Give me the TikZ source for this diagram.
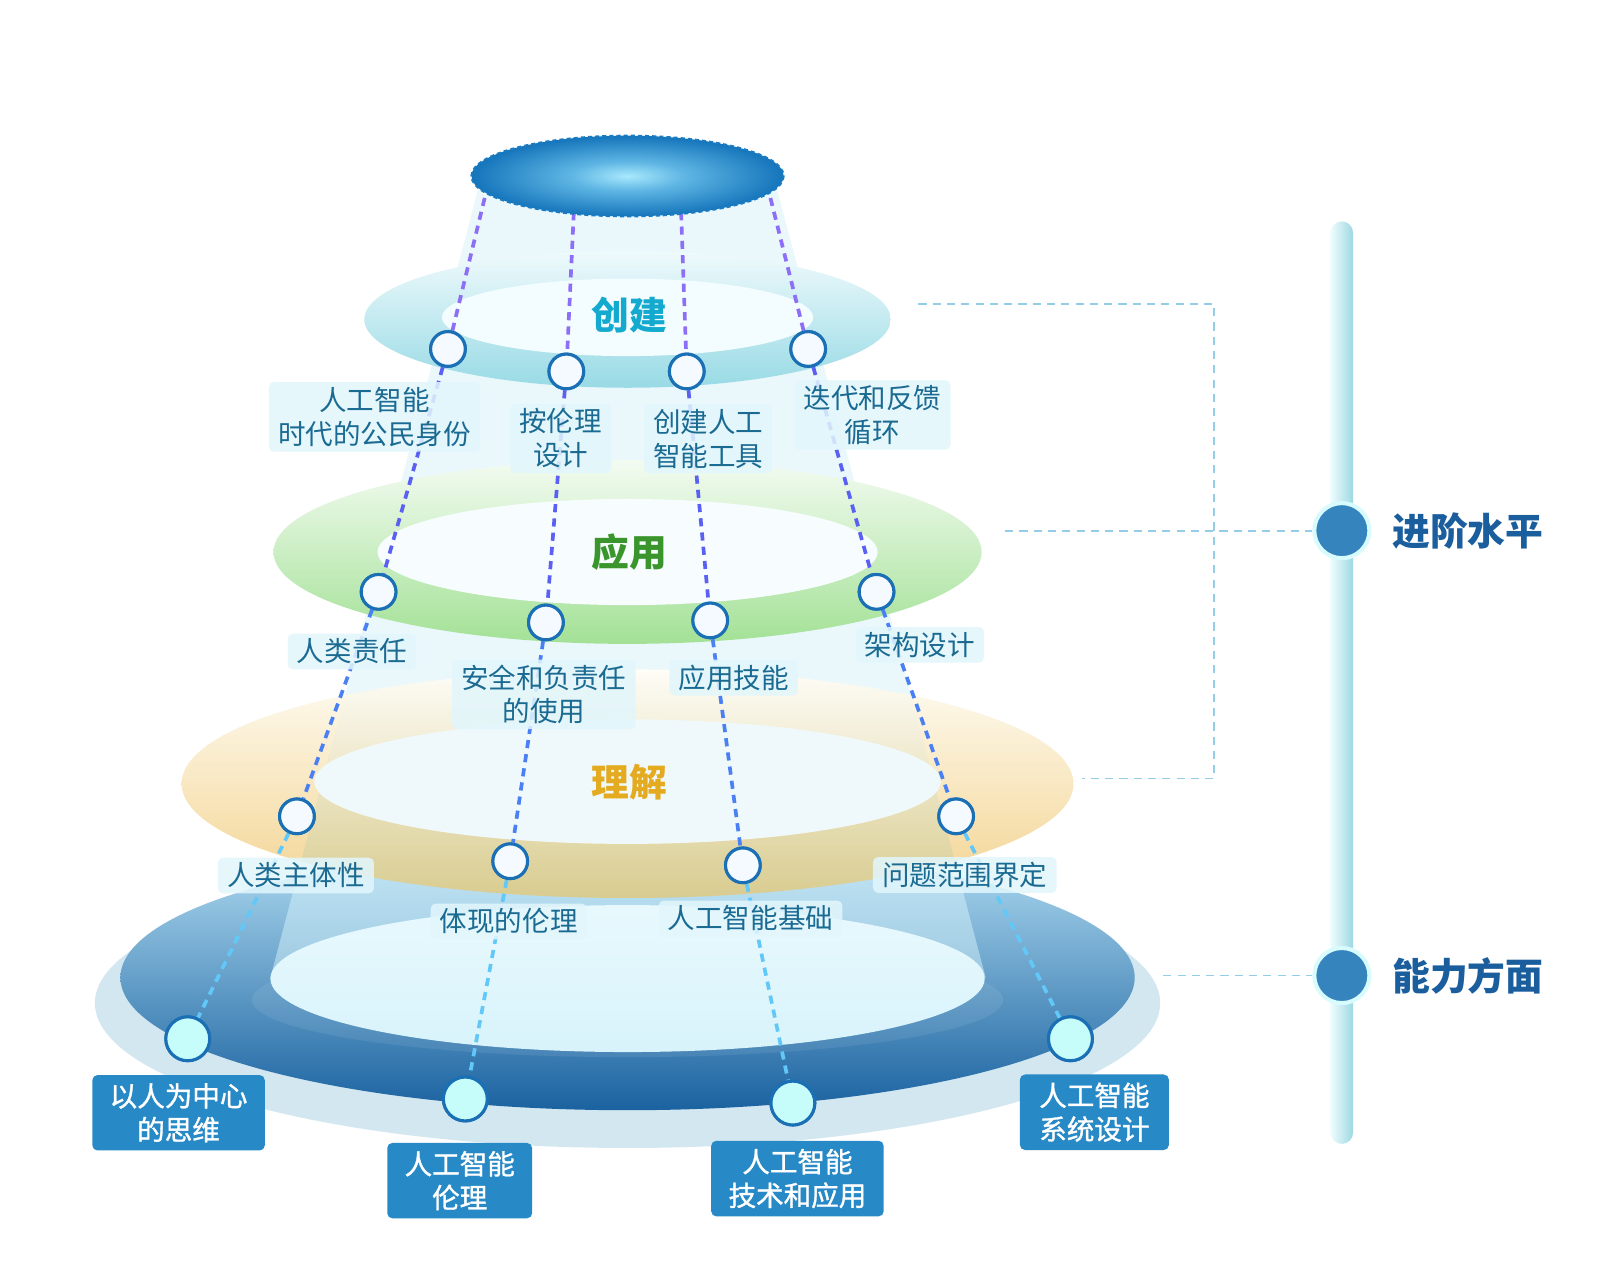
\documentclass[tikz,border=0pt]{standalone}
\usepackage{fontspec}
\setmainfont{Noto Sans CJK SC}
\newfontfamily\boxfont[FakeBold=1.2]{Noto Sans CJK SC}
\definecolor{baseC}{HTML}{D3E7F1}
\definecolor{blTop}{HTML}{B2DDF2}
\definecolor{blMid}{HTML}{5E9FD3}
\definecolor{blBot}{HTML}{1A62A0}
\definecolor{coneC}{HTML}{D6F2FA}
\definecolor{inTop}{HTML}{E8F9FD}
\definecolor{inBot}{HTML}{D8F3FB}
\definecolor{yTop}{HTML}{FEFCF3}
\definecolor{yMid}{HTML}{F9E5B3}
\definecolor{yBot}{HTML}{F3D390}
\definecolor{yTint}{HTML}{A8C090}
\definecolor{yIn}{HTML}{EFF9FC}
\definecolor{gTop}{HTML}{F3FBF1}
\definecolor{gMid}{HTML}{D3F0CC}
\definecolor{gBot}{HTML}{A3E196}
\definecolor{gIn}{HTML}{F7FDFE}
\definecolor{cTop}{HTML}{EFFAFC}
\definecolor{cMid}{HTML}{CDEDF2}
\definecolor{cBot}{HTML}{98DAE5}
\definecolor{cIn}{HTML}{F3FCFE}
\definecolor{capA}{HTML}{A8E8FC}
\definecolor{capB}{HTML}{5FB6E4}
\definecolor{capC}{HTML}{1575BB}
\definecolor{capEdge}{HTML}{1A7BC2}
\definecolor{segA}{HTML}{8D6EF6}
\definecolor{segB}{HTML}{5A60F2}
\definecolor{segC}{HTML}{4A80F4}
\definecolor{segD}{HTML}{62C8F8}
\definecolor{dotLine}{HTML}{1B70B5}
\definecolor{dotFill}{HTML}{F4FAFF}
\definecolor{bdotFill}{HTML}{C6FCF9}
\definecolor{labFill}{HTML}{E2F6FC}
\definecolor{labText}{HTML}{1A6A92}
\definecolor{boxBlue}{HTML}{2789C5}
\definecolor{tCreate}{HTML}{14A9CF}
\definecolor{tApply}{HTML}{3A962C}
\definecolor{tUnder}{HTML}{E4AB20}
\definecolor{rightText}{HTML}{1B5E9E}
\definecolor{barL}{HTML}{EEFCFE}
\definecolor{barR}{HTML}{9ED8E2}
\definecolor{bigDot}{HTML}{3584BD}
\definecolor{bigHalo}{HTML}{D8FBFE}
\definecolor{connC}{HTML}{94CDE6}
\pgfdeclareradialshading{capshade}{\pgfpointorigin}{color(0bp)=(capA); color(9bp)=(capB); color(25bp)=(capC); color(50bp)=(capC)}
\begin{document}
\begin{tikzpicture}[x=1pt,y=-1pt,
  lbl/.style={fill=labFill, fill opacity=0.86, text opacity=1, rounded corners=5pt, text=labText,
    font=\fontsize{27}{33}\selectfont, align=center, inner xsep=9pt, inner ysep=5pt},
  bbx/.style={fill=boxBlue, rounded corners=5pt, text=white,
    font=\boxfont\fontsize{27}{33}\selectfont, align=center, inner xsep=17pt, inner ysep=8pt},
  cdot/.style={circle, draw=dotLine, fill=dotFill, line width=3pt, minimum size=34pt, inner sep=0pt},
  bcdot/.style={cdot, fill=bdotFill, minimum size=43pt},
  dline/.style={line width=3.6pt, dash pattern=on 8pt off 6pt},
  dconn/.style={draw=connC, line width=1.8pt, dash pattern=on 8pt off 6pt},
  ttl/.style={font=\fontsize{37}{40}\selectfont\bfseries},
  rlab/.style={anchor=west, text=rightText, font=\fontsize{37}{40}\selectfont\bfseries}]
\useasboundingbox (0,0) rectangle (1568,1254.4);
\fill[white] (0,0) rectangle (1568,1254.4);

% bottom ring (能力方面 base)
\fill[baseC] (615,983) ellipse [x radius=522, y radius=142];
\shade[top color=blTop, middle color=blMid, bottom color=blBot] (615,958) ellipse [x radius=497, y radius=130];
% cone
\fill[coneC, fill opacity=0.5] (470,180) -- (760,180) -- (966,958) -- (265,958) -- cycle;
\fill[white, fill opacity=0.08] (615,980) ellipse [x radius=368, y radius=56];
\shade[top color=inTop, bottom color=inBot] (615,959) ellipse [x radius=350, y radius=72];

% 理解 ring
\shade[top color=yTop, middle color=yMid, bottom color=yBot] (615,768) ellipse [x radius=437, y radius=112];
\begin{scope}
  \clip (470,180) -- (760,180) -- (966,958) -- (265,958) -- cycle;
  \shade[even odd rule, top color=white, bottom color=yTint, fill opacity=0.35]
    (615,768) ellipse [x radius=437, y radius=112] (615,766) ellipse [x radius=307, y radius=61];
\end{scope}
\fill[yIn] (615,766) ellipse [x radius=307, y radius=61];

% 应用 ring
\shade[top color=gTop, middle color=gMid, bottom color=gBot] (615,541) ellipse [x radius=347, y radius=90];
\fill[gIn] (615,541) ellipse [x radius=245, y radius=52];

% 创建 ring
\shade[top color=cTop, middle color=cMid, bottom color=cBot] (615,313) ellipse [x radius=258, y radius=67];
\fill[cIn] (615,311) ellipse [x radius=182, y radius=38];

% titles
\node[ttl, text=tCreate] (tc) at (617,309) {创建};
\node[ttl, text=tApply] (ta) at (617,541) {应用};
\node[ttl, text=tUnder] (tu) at (617,767) {理解};

% start points at the cap
\coordinate (s1) at (475,194);
\coordinate (s2) at (563,194);
\coordinate (s3) at (667,194);
\coordinate (s4) at (755,194);
% circle nodes
\node[cdot] (a1) at (439,342) {};
\node[cdot] (a2) at (555,364) {};
\node[cdot] (a3) at (673,364) {};
\node[cdot] (a4) at (792,342) {};
\node[cdot] (b1) at (371,580) {};
\node[cdot] (b2) at (535,610) {};
\node[cdot] (b3) at (696,608) {};
\node[cdot] (b4) at (859,580) {};
\node[cdot] (c1) at (291,800) {};
\node[cdot] (c2) at (500,844) {};
\node[cdot] (c3) at (728,848) {};
\node[cdot] (c4) at (937,800) {};
\node[bcdot] (d1) at (184,1018) {};
\node[bcdot] (d2) at (456,1077) {};
\node[bcdot] (d3) at (777,1081) {};
\node[bcdot] (d4) at (1049,1018) {};

% dashed lines
\foreach \i in {1,2,3,4}{
  \draw[dline, draw=segA] (s\i) -- (a\i);
  \draw[dline, draw=segB] (a\i) -- (b\i);
  \draw[dline, draw=segC] (b\i) -- (c\i);
  \draw[dline, draw=segD] (c\i) -- (d\i);
}

% top cap
\shade[shading=capshade, draw=capEdge, line width=2pt, dash pattern=on 4pt off 3pt] (615,172.5) ellipse [x radius=153, y radius=39.5];

% redraw circles on top of lines
\foreach \n in {a1,a2,a3,a4,b1,b2,b3,b4,c1,c2,c3,c4}{
  \node[cdot] at (\n) {};
}
\foreach \n in {d1,d2,d3,d4}{
  \node[bcdot] at (\n) {};
}

% labels
\node[lbl] (l1) at (367,408.5) {人工智能\\时代的公民身份};
\node[lbl] (l2) at (549.5,429.5) {按伦理\\设计};
\node[lbl] (l3) at (694,430) {创建人工\\智能工具};
\node[lbl] (l4) at (855,406.7) {迭代和反馈\\循环};
\node[lbl] (l5) at (345,638.5) {人类责任};
\node[lbl] (l6) at (533,680.5) {安全和负责任\\的使用};
\node[lbl] (l7) at (719,664) {应用技能};
\node[lbl] (l8) at (901.5,632) {架构设计};
\node[lbl] (l9) at (290,858) {人类主体性};
\node[lbl] (l10) at (498.5,903) {体现的伦理};
\node[lbl] (l11) at (735.5,900) {人工智能基础};
\node[lbl] (l12) at (945.5,857.5) {问题范围界定};

% bottom boxes
\node[bbx] (q1) at (175,1090.5) {以人为中心\\的思维};
\node[bbx] (q2) at (450.5,1157) {人工智能\\伦理};
\node[bbx] (q3) at (781.5,1155) {人工智能\\技术和应用};
\node[bbx, inner xsep=19pt] (q4) at (1072.5,1090) {人工智能\\系统设计};

% right side
\shade[left color=barL, right color=barR, rounded corners=11pt] (1304,217) rectangle (1326,1121);
\coordinate (k1) at (900,298);
\coordinate (k2) at (1190,298);
\coordinate (k3) at (1190,763);
\coordinate (k4) at (1060,763);
\coordinate (k5) at (985,520);
\coordinate (k6) at (1140,956);
\node[circle, fill=bigDot, draw=bigHalo, line width=4pt, minimum size=54pt, inner sep=0pt] (p1) at (1315,520) {};
\node[circle, fill=bigDot, draw=bigHalo, line width=4pt, minimum size=54pt, inner sep=0pt] (p2) at (1315,956) {};
\draw[dconn] (k1) -- (k2) -- (k3) -- (k4);
\draw[dconn] (k5) -- (p1);
\draw[dconn] (k6) -- (p2);
\node[rlab] (r1) at (1361,520) {进阶水平};
\node[rlab] (r2) at (1361,956) {能力方面};
\end{tikzpicture}
\end{document}
